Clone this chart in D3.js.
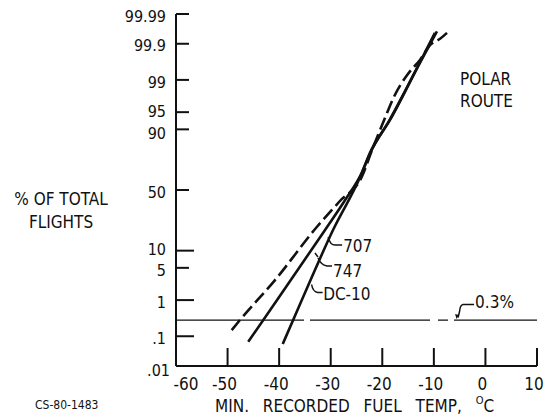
<!DOCTYPE html>
<meta charset="utf-8">
<script src="https://d3js.org/d3.v7.min.js"></script>
<style>
  body { margin: 0; background: #fff; }
  text { font-family: "DejaVu Sans Condensed", "DejaVu Sans", sans-serif; font-stretch: condensed; fill: #111; }
</style>
<div id="chart"></div>
<script>

// tick values
var xTicks = [-60, -50, -40, -30, -20, -10, 0, 10];
var yTicks = [0.01, 0.1, 1, 5, 10, 50, 90, 95, 99, 99.9, 99.99];
var yTickLabels = [".01", ".1", "1", "5", "10", "50", "90", "95", "99", "99.9", "99.99"];
var longYTicks = [0.1, 1, 10];

// curves: min recorded fuel temp (deg C) vs cumulative % of flights
var temp747 = [-49.2, -47.6, -40.8, -32.7, -28.3, -23.9, -22.0, -19.5, -17.85, -15.0, -12.7, -10.75, -8.8, -7.45];
var pct747  = [0.154, 0.3, 2.85, 21.7, 40.4, 61.6, 80, 93.5, 97.4, 99.3, 99.70, 99.89, 99.93, 99.955];

var temp707 = [-46.0, -40.4, -31.1, -27.2, -23.9, -22.3, -18.6, -12.8, -9.8];
var pct707  = [0.067, 1, 19.9, 41.6, 64.8, 78.5, 93.0, 99.63, 99.955];

var tempDC10 = [-39.3, -35.6, -29.55, -24.3, -22.4, -18.5, -12.7, -9.4];
var pctDC10  = [0.057, 1, 19.9, 60.8, 78.3, 93.06, 99.64, 99.96];

var limitPct = 0.3;

var width = 550, height = 418;

var svg = d3.select("#chart")
  .append("svg")
    .attr("width", width)
    .attr("height", height);

// inverse of the normal cdf (Acklam), for the probability axis
function probit(p) {
  var a = [-3.969683028665376e+01, 2.209460984245205e+02, -2.759285104469687e+02, 1.383577518672690e+02, -3.066479806614716e+01, 2.506628277459239e+00];
  var b = [-5.447609879822406e+01, 1.615858368580409e+02, -1.556989798598866e+02, 6.680131188771972e+01, -1.328068155288572e+01];
  var c = [-7.784894002430293e-03, -3.223964580411365e-01, -2.400758277161838e+00, -2.549732539343734e+00, 4.374664141464968e+00, 2.938163982698783e+00];
  var d = [7.784695709041462e-03, 3.224671290700398e-01, 2.445134137142996e+00, 3.754408661907416e+00];
  var q, r;
  if (p < 0.02425) {
    q = Math.sqrt(-2 * Math.log(p));
    return (((((c[0]*q+c[1])*q+c[2])*q+c[3])*q+c[4])*q+c[5]) / ((((d[0]*q+d[1])*q+d[2])*q+d[3])*q+1);
  }
  if (p > 1 - 0.02425) {
    q = Math.sqrt(-2 * Math.log(1 - p));
    return -(((((c[0]*q+c[1])*q+c[2])*q+c[3])*q+c[4])*q+c[5]) / ((((d[0]*q+d[1])*q+d[2])*q+d[3])*q+1);
  }
  q = p - 0.5; r = q * q;
  return (((((a[0]*r+a[1])*r+a[2])*r+a[3])*r+a[4])*r+a[5])*q / (((((b[0]*r+b[1])*r+b[2])*r+b[3])*r+b[4])*r+1);
}

var x = d3.scaleLinear().domain([-60, 10]).range([176, 537]);
var yz = d3.scaleLinear().domain([probit(0.0001), probit(0.9999)]).range([366, 14]);
function y(pct) { return yz(probit(pct / 100)); }

// ---------- axes ----------
svg.append("line")
  .attr("x1", x(-60)).attr("x2", x(-60))
  .attr("y1", y(99.99)).attr("y2", y(0.01))
  .attr("stroke", "#111").attr("stroke-width", 2);
svg.append("line")
  .attr("x1", x(-60)).attr("x2", x(10))
  .attr("y1", y(0.01)).attr("y2", y(0.01))
  .attr("stroke", "#111").attr("stroke-width", 2);

// y ticks point inward
svg.selectAll("ytick")
  .data(yTicks.filter(function(d){ return d > 0.01; }))
  .enter()
  .append("line")
    .attr("x1", x(-60))
    .attr("x2", function(d){ return x(-60) + (longYTicks.indexOf(d) >= 0 ? 18 : 13); })
    .attr("y1", function(d){ return y(d); })
    .attr("y2", function(d){ return y(d); })
    .attr("stroke", "#111").attr("stroke-width", 2);

// crowded labels are nudged apart, as on the original
var nudge = {0.01: 4, 5: 3, 10: -1, 90: 4, 95: -1};

svg.selectAll("ylabel")
  .data(yTicks)
  .enter()
  .append("text")
    .attr("x", function(d){ return d == 0.01 ? x(-60) - 6 : x(-60) - 10; })
    .attr("y", function(d){ return y(d) + (d in nudge ? nudge[d] : 2); })
    .attr("dy", "0.35em")
    .attr("text-anchor", "end")
    .style("font-size", "16px")
    .text(function(d, i){ return yTickLabels[i]; });

// x ticks point upward
svg.selectAll("xtick")
  .data(xTicks.slice(1))
  .enter()
  .append("line")
    .attr("x1", function(d){ return x(d); })
    .attr("x2", function(d){ return x(d); })
    .attr("y1", y(0.01))
    .attr("y2", y(0.01) - 18)
    .attr("stroke", "#111").attr("stroke-width", 2);

svg.selectAll("xlabel")
  .data(xTicks)
  .enter()
  .append("text")
    .attr("x", function(d){ return d == -60 ? x(d) + 10 : x(d) - 3; })
    .attr("y", 390)
    .attr("text-anchor", "middle")
    .style("font-size", "17px")
    .text(function(d){ return d; });

// axis titles
svg.append("text")
  .attr("x", 61).attr("y", 205)
  .attr("text-anchor", "middle")
  .style("font-size", "17px")
  .text("% OF TOTAL");
svg.append("text")
  .attr("x", 61).attr("y", 228)
  .attr("text-anchor", "middle")
  .style("font-size", "17px")
  .text("FLIGHTS");

var xTitle = svg.append("text")
  .attr("x", 215).attr("y", 412)
  .style("font-size", "17px")
  .style("word-spacing", "9px");
xTitle.append("tspan").text("MIN. RECORDED FUEL TEMP, ");
xTitle.append("tspan").attr("dy", -8).style("font-size", "11px").text("O");
xTitle.append("tspan").attr("dy", 8).text("C");

svg.append("text")
  .attr("x", 35).attr("y", 409)
  .style("font-size", "12px")
  .text("CS-80-1483");

svg.append("text")
  .attr("x", 460).attr("y", 85)
  .style("font-size", "17px")
  .text("POLAR");
svg.append("text")
  .attr("x", 460).attr("y", 107)
  .style("font-size", "17px")
  .text("ROUTE");

// ---------- 0.3% line ----------
svg.append("line")
  .attr("x1", x(-60)).attr("x2", x(10))
  .attr("y1", y(limitPct)).attr("y2", y(limitPct))
  .attr("stroke", "#111").attr("stroke-width", 1.3)
  .attr("stroke-dasharray", "128,6,120,8,10,6,200");

// ---------- curves ----------
var line = d3.line()
  .x(function(d){ return x(d[0]); })
  .y(function(d){ return y(d[1]); })
  .curve(d3.curveMonotoneX);

var series = [
  {name: "747", t: temp747, p: pct747, dash: "13,5"},
  {name: "707", t: temp707, p: pct707, dash: null},
  {name: "DC-10", t: tempDC10, p: pctDC10, dash: null}
];

svg.selectAll("curves")
  .data(series)
  .enter()
  .append("path")
    .attr("d", function(s){ return line(d3.zip(s.t, s.p)); })
    .attr("fill", "none")
    .attr("stroke", "#111")
    .attr("stroke-width", 2.6)
    .attr("stroke-dasharray", function(s){ return s.dash; });

// ---------- curve labels with leaders ----------
var labels = [
  {text: "707", t: -30.5, p: 16.0, leader: "m0,0 q2,8 7,8 l7,0", tx: 15, ty: 15},
  {text: "747", t: -33.05, p: 9.15, leader: "m0,0 l3,4 m0,1 q3,7 9,8 l5,0", tx: 18, ty: 24},
  {text: "DC-10", t: -33.7, p: 2.29, leader: "m0,0 q1,7 6,8 l5,0", tx: 11.5, ty: 15.5}
];

labels.forEach(function(l){
  var ax = x(l.t), ay = y(l.p);
  svg.append("path")
    .attr("d", "M" + ax + "," + ay + l.leader)
    .attr("fill", "none").attr("stroke", "#111").attr("stroke-width", 1.5);
  svg.append("text")
    .attr("x", ax + l.tx).attr("y", ay + l.ty)
    .style("font-size", "17px")
    .text(l.text);
});

// 0.3% note
var nx = x(-5.5), ny = y(limitPct);
svg.append("path")
  .attr("d", "M" + (nx + 17) + "," + (ny - 15.5) + " l-11,0 q-3,0.5 -3.5,7 l-1.5,6")
  .attr("fill", "none").attr("stroke", "#111").attr("stroke-width", 1.5);
svg.append("path")
  .attr("d", "M" + (nx - 0.5) + "," + (ny - 1) + " l-1.5,-5 l4,1 z")
  .attr("fill", "#111");
svg.append("text")
  .attr("x", nx + 18).attr("y", ny - 12)
  .style("font-size", "17px")
  .text("0.3%");

</script>
